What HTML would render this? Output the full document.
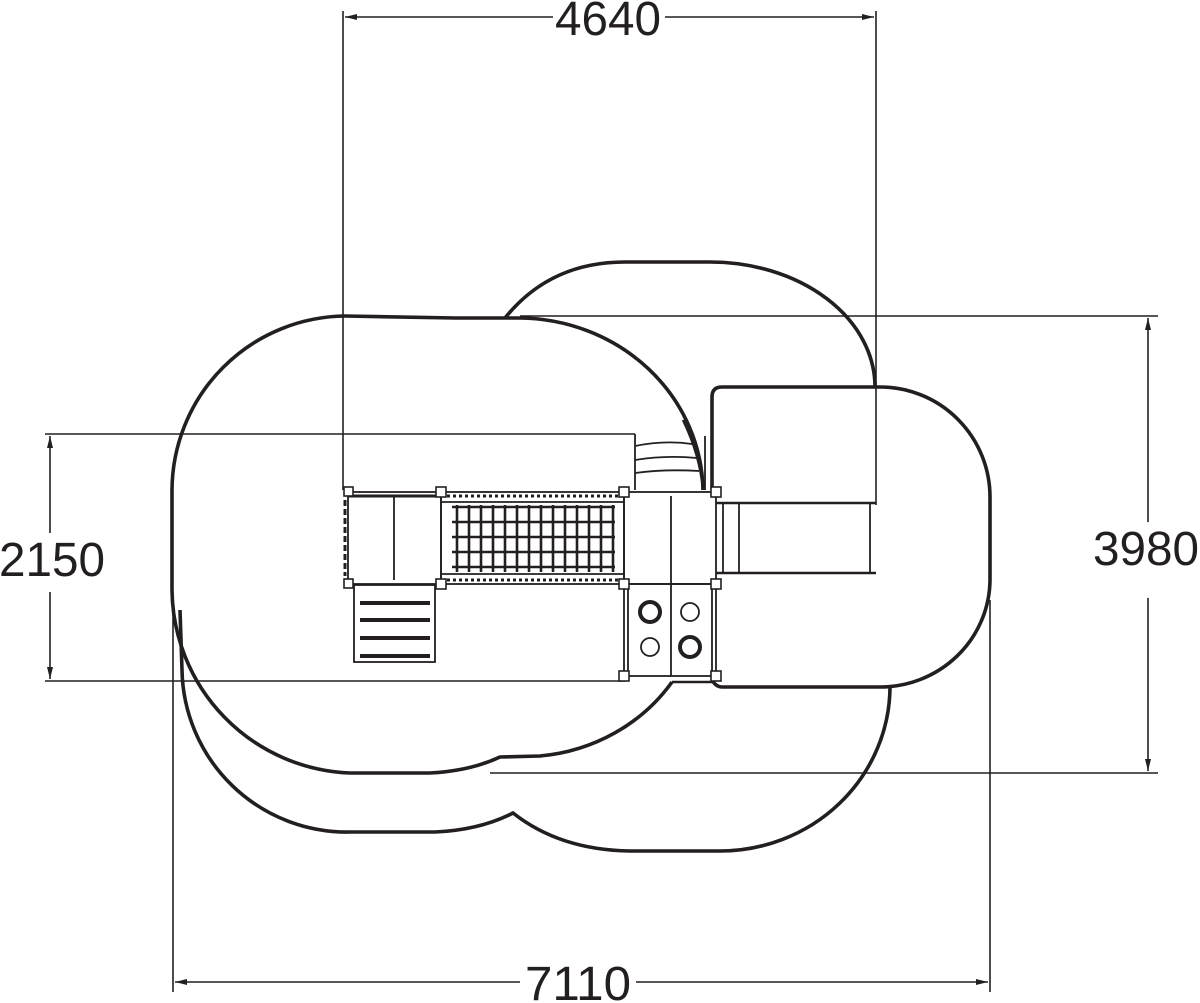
<!DOCTYPE html>
<html><head><meta charset="utf-8"><style>html,body{margin:0;padding:0;background:#fff}svg{display:block}</style></head>
<body>
<svg width="1200" height="1003" viewBox="0 0 1200 1003" xmlns="http://www.w3.org/2000/svg">
<defs>
<marker id="ar" markerWidth="12" markerHeight="8" refX="12" refY="4" orient="auto" markerUnits="userSpaceOnUse"><path d="M0,1 L12,4 L0,7 Z" fill="#231f20"/></marker>
</defs>
<g fill="none" stroke="#231f20" stroke-width="3.6">
<path d="M345,316 L455,318 L520,318 A185,175 0 0 1 703,490"/>
<path d="M345,316 A175,175 0 0 0 172,490 L172,590 A185,185 0 0 0 350,773 L430,773 Q470,771 500,757 L540,756 A180,170 0 0 0 672,682"/>
<path d="M180,610 L182,670 A165,165 0 0 0 350,832 L435,832 Q480,830 513,813 Q560,850 630,851 L720,851 A170,165 0 0 0 890,688"/>
<path d="M505,318 Q550,262 625,262 L710,262 A165,125 0 0 1 875,387"/>
<path d="M712,490 L712,397 Q712,387 722,387 L880,387 A110,110 0 0 1 990,497 L990,580 A110,108 0 0 1 880,687 L722,687 Q716,687 712,680"/>
</g>
<g fill="none" stroke="#231f20" stroke-width="1.6">
<line x1="343" y1="11" x2="343" y2="490"/>
<line x1="876" y1="11" x2="876" y2="505"/>
<line x1="553" y1="17" x2="345" y2="17" marker-end="url(#ar)"/>
<line x1="665" y1="17" x2="874" y2="17" marker-end="url(#ar)"/>
<line x1="520" y1="316" x2="1158" y2="316"/>
<line x1="490" y1="773" x2="1158" y2="773"/>
<line x1="1148" y1="522" x2="1148" y2="318" marker-end="url(#ar)"/>
<line x1="1148" y1="598" x2="1148" y2="771" marker-end="url(#ar)"/>
<line x1="45" y1="434" x2="635" y2="434"/>
<line x1="45" y1="681" x2="625" y2="681"/>
<line x1="50" y1="533" x2="50" y2="436" marker-end="url(#ar)"/>
<line x1="50" y1="592" x2="50" y2="679" marker-end="url(#ar)"/>
<line x1="173" y1="600" x2="173" y2="992"/>
<line x1="990" y1="600" x2="990" y2="992"/>
<line x1="520" y1="982" x2="175" y2="982" marker-end="url(#ar)"/>
<line x1="636" y1="982" x2="988" y2="982" marker-end="url(#ar)"/>
</g>
<g fill="#231f20" font-family="'Liberation Sans Narrow','Liberation Sans',sans-serif" font-size="48" text-anchor="middle">
<text x="608" y="35" textLength="106" lengthAdjust="spacingAndGlyphs">4640</text>
<text x="1146" y="565" textLength="106" lengthAdjust="spacingAndGlyphs">3980</text>
<text x="52" y="576" textLength="106" lengthAdjust="spacingAndGlyphs">2150</text>
<text x="578" y="1000" textLength="106" lengthAdjust="spacingAndGlyphs">7110</text>
</g>
<g fill="none" stroke="#231f20" stroke-width="1.8">
<line x1="635" y1="434" x2="635" y2="490"/>
<path d="M635,446 Q665,440 692,444 M635,460 Q665,455 697,458 M635,473 Q665,469 699,471"/>
<path d="M683,420 Q700,455 703,490" stroke-width="2.5"/>
<line x1="705" y1="436" x2="705" y2="490"/>
<line x1="712" y1="420" x2="712" y2="492" stroke-width="3"/>
<rect x="348" y="492" width="93" height="92"/>
<line x1="394" y1="496" x2="394" y2="580"/>
<line x1="348" y1="496" x2="441" y2="496" stroke-width="3"/>
<line x1="345" y1="500" x2="345" y2="576" stroke-width="3" stroke-dasharray="6 3"/>
<rect x="441" y="492" width="183" height="92"/>
<line x1="441" y1="502" x2="624" y2="502"/>
<line x1="441" y1="574" x2="624" y2="574"/>
<line x1="441" y1="496" x2="624" y2="496" stroke-dasharray="3 3" stroke-width="3"/>
<line x1="441" y1="580" x2="624" y2="580" stroke-dasharray="3 3" stroke-width="3"/>
<g stroke-width="2.6">
<line x1="457" y1="505" x2="457" y2="572"/><line x1="469" y1="505" x2="469" y2="572"/>
<line x1="481" y1="505" x2="481" y2="572"/><line x1="493" y1="505" x2="493" y2="572"/>
<line x1="505" y1="505" x2="505" y2="572"/><line x1="517" y1="505" x2="517" y2="572"/>
<line x1="529" y1="505" x2="529" y2="572"/><line x1="541" y1="505" x2="541" y2="572"/>
<line x1="553" y1="505" x2="553" y2="572"/><line x1="565" y1="505" x2="565" y2="572"/>
<line x1="577" y1="505" x2="577" y2="572"/><line x1="589" y1="505" x2="589" y2="572"/>
<line x1="601" y1="505" x2="601" y2="572"/><line x1="613" y1="505" x2="613" y2="572"/>
<line x1="452" y1="507" x2="615" y2="507"/><line x1="452" y1="522" x2="615" y2="522"/>
<line x1="452" y1="537" x2="615" y2="537"/><line x1="452" y1="552" x2="615" y2="552"/>
<line x1="452" y1="567" x2="615" y2="567"/>
</g>
<rect x="624" y="492" width="92" height="92"/>
<line x1="671" y1="496" x2="671" y2="584"/>
<rect x="624" y="584" width="92" height="92"/>
<line x1="671" y1="584" x2="671" y2="676"/>
<line x1="628" y1="584" x2="628" y2="676"/>
<line x1="712" y1="584" x2="712" y2="676"/>
<circle cx="650" cy="612" r="10" stroke-width="4"/>
<circle cx="690" cy="612" r="9"/>
<circle cx="650" cy="647" r="9"/>
<circle cx="690" cy="647" r="10" stroke-width="4"/>
<line x1="672" y1="682" x2="712" y2="682" stroke-width="2.5"/>
<rect x="354" y="585" width="81" height="77"/>
<g stroke-width="4"><line x1="360" y1="603" x2="430" y2="603"/><line x1="360" y1="620" x2="430" y2="620"/><line x1="360" y1="638" x2="430" y2="638"/><line x1="360" y1="656" x2="430" y2="656"/></g>
<line x1="716" y1="503" x2="876" y2="503" stroke-width="2.5"/>
<line x1="716" y1="573" x2="876" y2="573" stroke-width="2.5"/>
<line x1="723" y1="503" x2="723" y2="573"/>
<line x1="739" y1="503" x2="739" y2="573"/>
<line x1="870" y1="503" x2="870" y2="573"/>
</g>
<g fill="#fff" stroke="#231f20" stroke-width="1.6">
<rect x="344" y="487" width="9" height="9"/><rect x="436" y="487" width="10" height="10"/><rect x="619" y="487" width="10" height="10"/><rect x="711" y="487" width="10" height="10"/>
<rect x="344" y="579" width="9" height="9"/><rect x="436" y="579" width="10" height="10"/><rect x="619" y="579" width="10" height="10"/><rect x="711" y="579" width="10" height="10"/>
<rect x="619" y="671" width="10" height="10"/><rect x="711" y="671" width="10" height="10"/>
</g>
</svg>
</body></html>
